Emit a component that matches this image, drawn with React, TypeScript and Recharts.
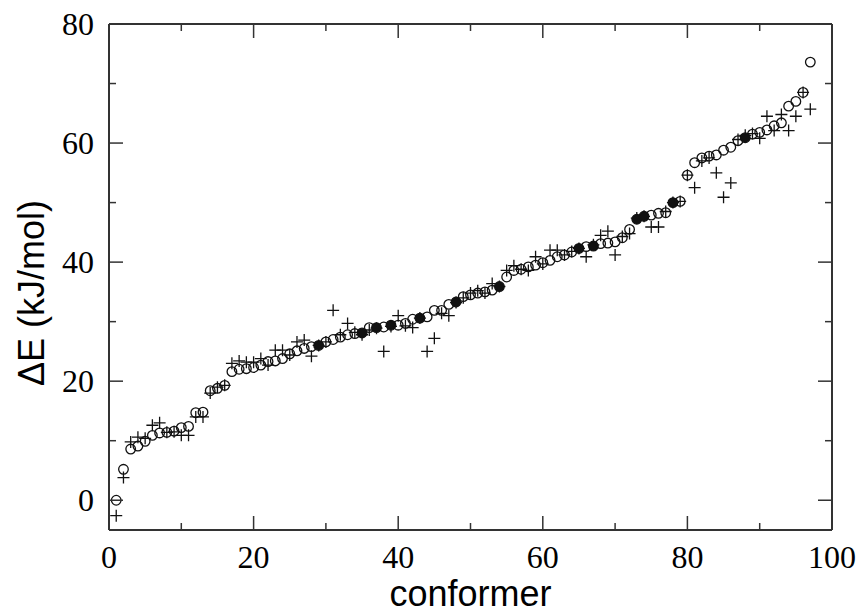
import { ScatterChart, Scatter, XAxis, YAxis, Label } from 'recharts';

// ΔE per conformer (index 1..97)
const circleEnergies = [
  0.0, 5.2, 8.6, 9.1, 9.9, 10.9, 11.3, 11.4, 11.6, 12.2,
  12.4, 14.7, 14.8, 18.4, 18.8, 19.3, 21.6, 22.0, 22.1, 22.3,
  22.7, 23.3, 23.4, 23.8, 24.6, 25.1, 25.5, 25.8, 26.0, 26.6,
  27.0, 27.4, 27.8, 28.0, 28.1, 29.0, 29.0, 29.1, 29.4, 29.4,
  29.7, 30.4, 30.6, 30.8, 31.9, 31.9, 32.9, 33.3, 34.2, 34.5,
  34.8, 35.0, 35.3, 35.9, 37.5, 38.6, 38.8, 39.2, 39.5, 39.9,
  40.3, 40.9, 41.2, 41.7, 42.3, 42.6, 42.7, 43.1, 43.2, 43.4,
  44.1, 45.5, 47.2, 47.7, 47.9, 48.2, 48.3, 50.0, 50.2, 54.6,
  56.7, 57.5, 57.8, 58.0, 58.8, 59.3, 60.4, 60.9, 61.5, 61.8,
  62.2, 62.9, 63.4, 66.2, 67.0, 68.5, 73.6,
];

const plusEnergies = [
  -2.6, 3.8, 9.8, 10.6, 10.4, 12.6, 13.0, 11.4, 11.5, 10.9,
  10.9, 14.0, 14.0, 18.0, 19.0, 19.3, 23.0, 23.4, 23.2, 23.2,
  23.8, 22.7, 25.2, 25.2, 24.4, 26.6, 26.9, 24.2, 26.0, 26.6,
  31.9, 27.8, 29.7, 28.2, 27.8, 28.6, 28.9, 25.0, 29.2, 31.0,
  29.3, 29.0, 30.6, 25.0, 27.2, 31.4, 31.0, 33.2, 34.0, 34.8,
  35.2, 34.8, 36.4, 35.9, 38.6, 39.4, 38.8, 38.6, 40.9, 39.7,
  42.0, 42.0, 41.2, 41.8, 42.3, 40.9, 42.9, 44.5, 45.2, 41.2,
  44.3, 44.8, 47.4, 47.7, 45.9, 45.9, 48.5, 50.0, 50.2, 54.6,
  52.5, 57.0, 57.5, 55.0, 50.9, 53.3, 60.6, 61.3, 61.6, 60.8,
  64.5, 62.1, 64.8, 62.1, 64.5, 68.5, 65.7,
];

const filledConformers = [29, 35, 37, 39, 43, 48, 54, 65, 67, 73, 74, 78, 88];

const xTicks = [0, 10, 20, 30, 40, 50, 60, 70, 80, 90, 100];
const yTicks = [0, 10, 20, 30, 40, 50, 60, 70, 80];
const xLabelStep = 20;
const yLabelStep = 20;

const circleData = circleEnergies.map((e, i) => ({
  conformer: i + 1,
  energy: e,
  filled: filledConformers.includes(i + 1),
}));
const plusData = plusEnergies.map((e, i) => ({ conformer: i + 1, energy: e }));

const INK = '#111';
const AXIS = '#333';
const SERIF = '"Liberation Serif", "Times New Roman", serif';
const SANS = '"Liberation Sans", Arial, sans-serif';
const MAJOR = 14;
const MINOR = 7;

const BottomTick = (props: any) => {
  const { x, y, payload } = props;
  const major = payload.value % xLabelStep === 0;
  return (
    <g>
      <line x1={x} y1={y} x2={x} y2={y - (major ? MAJOR : MINOR)} stroke={AXIS} strokeWidth={1.5} />
      {major && (
        <text x={x} y={y + 38} textAnchor="middle" fontFamily={SERIF} fontSize={32} fill="#000">
          {payload.value}
        </text>
      )}
    </g>
  );
};

const TopTick = (props: any) => {
  const { x, y, payload } = props;
  const major = payload.value % xLabelStep === 0;
  return <line x1={x} y1={y} x2={x} y2={y + (major ? MAJOR : MINOR)} stroke={AXIS} strokeWidth={1.5} />;
};

const LeftTick = (props: any) => {
  const { x, y, payload } = props;
  const major = payload.value % yLabelStep === 0;
  return (
    <g>
      <line x1={x} y1={y} x2={x + (major ? MAJOR : MINOR)} y2={y} stroke={AXIS} strokeWidth={1.5} />
      {major && (
        <text x={x - 15} y={y + 11} textAnchor="end" fontFamily={SERIF} fontSize={32} fill="#000">
          {payload.value}
        </text>
      )}
    </g>
  );
};

const RightTick = (props: any) => {
  const { x, y, payload } = props;
  const major = payload.value % yLabelStep === 0;
  return <line x1={x} y1={y} x2={x - (major ? MAJOR : MINOR)} y2={y} stroke={AXIS} strokeWidth={1.5} />;
};

const CircleMark = (props: any) => {
  const { cx, cy, payload } = props;
  return (
    <circle
      cx={cx}
      cy={cy}
      r={4.8}
      fill={payload.filled ? INK : 'none'}
      stroke={INK}
      strokeWidth={1.3}
    />
  );
};

const PlusMark = (props: any) => {
  const { cx, cy } = props;
  return (
    <path
      d={`M${cx - 6},${cy}H${cx + 6}M${cx},${cy - 6}V${cy + 6}`}
      stroke={INK}
      strokeWidth={1.3}
      fill="none"
    />
  );
};

const YTitle = (props: any) => {
  const { viewBox } = props;
  const cx = viewBox.x + 44;
  const cy = viewBox.y + viewBox.height / 2 + 16;
  return (
    <text
      x={cx}
      y={cy}
      transform={`rotate(-90, ${cx}, ${cy})`}
      textAnchor="middle"
      fontFamily={SANS}
      fontSize={36}
      fill="#000"
    >
      ΔE (kJ/mol)
    </text>
  );
};

export default function App() {
  return (
    <div style={{ width: 861, height: 613, background: '#fff' }}>
      <style>{`body { margin: 0; }`}</style>
      <ScatterChart width={861} height={613} margin={{ top: 4, right: 0, bottom: 0, left: 0 }}>
        <XAxis
          xAxisId="bottom"
          dataKey="conformer"
          type="number"
          domain={[0, 100]}
          ticks={xTicks}
          interval={0}
          allowDataOverflow
          height={83}
          tickSize={0}
          tickMargin={0}
          tickLine={false}
          axisLine={{ stroke: AXIS, strokeWidth: 2 }}
          tick={(p: any) => <BottomTick {...p} />}
        >
          <Label value="conformer" position="insideBottom" offset={7} fontFamily={SANS} fontSize={36} fill="#000" />
        </XAxis>
        <XAxis
          xAxisId="top"
          orientation="top"
          dataKey="conformer"
          type="number"
          domain={[0, 100]}
          ticks={xTicks}
          interval={0}
          allowDataOverflow
          height={20}
          tickSize={0}
          tickMargin={0}
          tickLine={false}
          axisLine={{ stroke: AXIS, strokeWidth: 2 }}
          tick={(p: any) => <TopTick {...p} />}
        />
        <YAxis
          yAxisId="left"
          dataKey="energy"
          type="number"
          domain={[-5, 80]}
          ticks={yTicks}
          interval={0}
          allowDataOverflow
          width={109}
          tickSize={0}
          tickMargin={0}
          tickLine={false}
          axisLine={{ stroke: AXIS, strokeWidth: 2 }}
          tick={(p: any) => <LeftTick {...p} />}
        >
          <Label content={(p: any) => <YTitle {...p} />} />
        </YAxis>
        <YAxis
          yAxisId="right"
          orientation="right"
          dataKey="energy"
          type="number"
          domain={[-5, 80]}
          ticks={yTicks}
          interval={0}
          allowDataOverflow
          width={29}
          tickSize={0}
          tickMargin={0}
          tickLine={false}
          axisLine={{ stroke: AXIS, strokeWidth: 2 }}
          tick={(p: any) => <RightTick {...p} />}
        />
        <Scatter
          data={plusData}
          xAxisId="top"
          yAxisId="right"
          shape={(p: any) => <PlusMark {...p} />}
          isAnimationActive={false}
        />
        <Scatter
          data={circleData}
          xAxisId="bottom"
          yAxisId="left"
          shape={(p: any) => <CircleMark {...p} />}
          isAnimationActive={false}
        />
      </ScatterChart>
    </div>
  );
}
